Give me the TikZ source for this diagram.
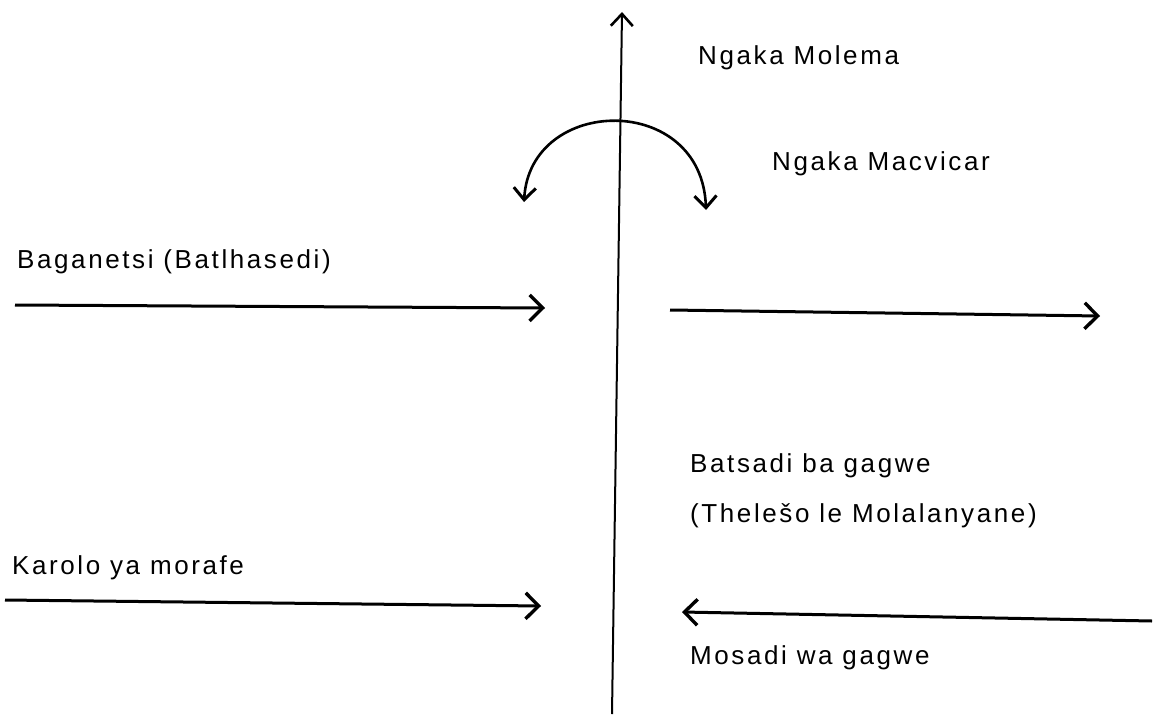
\documentclass[tikz,border=0pt]{standalone}
\usepackage{fontspec}
\setmainfont{Liberation Sans}[LetterSpace=10]
\usetikzlibrary{arrows.meta}
\begin{document}
\begin{tikzpicture}[x=1pt,y=-1pt,
  lbl/.style={anchor=base west,inner sep=0pt,font=\fontsize{26}{31}\selectfont},
  harrow/.style={line width=3pt,-{Straight Barb[length=13pt,width=26pt,line width=3.4pt]}},
  axis/.style={line width=2pt,-{Straight Barb[length=12pt,width=22pt,line width=2.6pt]}},
  turn/.style={line width=2.6pt,{Straight Barb[length=12pt,width=22pt,line width=3pt]}-{Straight Barb[length=12pt,width=22pt,line width=3pt]}}]
\useasboundingbox (0,0) rectangle (1155,714);
% vertical axis
\coordinate (vb) at (612,714);
\coordinate (vt) at (622,12);
\draw[axis] (vb) -- (vt);
% turning arc
\coordinate (as) at (524,202);
\coordinate (ae) at (706,210);
\draw[turn] (as) .. controls (530,95) and (702,92) .. (ae);
% labels
\node[lbl] (molema) at (698,65) {Ngaka Molema};
\node[lbl] (macvicar) at (772,171) {Ngaka Macvicar};
\node[lbl] (baganetsi) at (17,268) {Baganetsi (Batlhasedi)};
\node[lbl] (batsadi) at (690,472) {Batsadi ba gagwe};
\node[lbl] (theleso) at (690,522) {(Thelešo le Molalanyane)};
\node[lbl] (karolo) at (12,574) {Karolo ya morafe};
\node[lbl] (mosadi) at (690,664) {Mosadi wa gagwe};
% horizontal arrows
\coordinate (a1s) at (15,305); \coordinate (a1e) at (545,308);
\coordinate (a2s) at (670,310); \coordinate (a2e) at (1100,316);
\coordinate (a3s) at (5,600); \coordinate (a3e) at (541,606);
\coordinate (a4s) at (1152,621); \coordinate (a4e) at (682,612);
\draw[harrow] (a1s) -- (a1e);
\draw[harrow] (a2s) -- (a2e);
\draw[harrow] (a3s) -- (a3e);
\draw[harrow] (a4s) -- (a4e);
\end{tikzpicture}
\end{document}
